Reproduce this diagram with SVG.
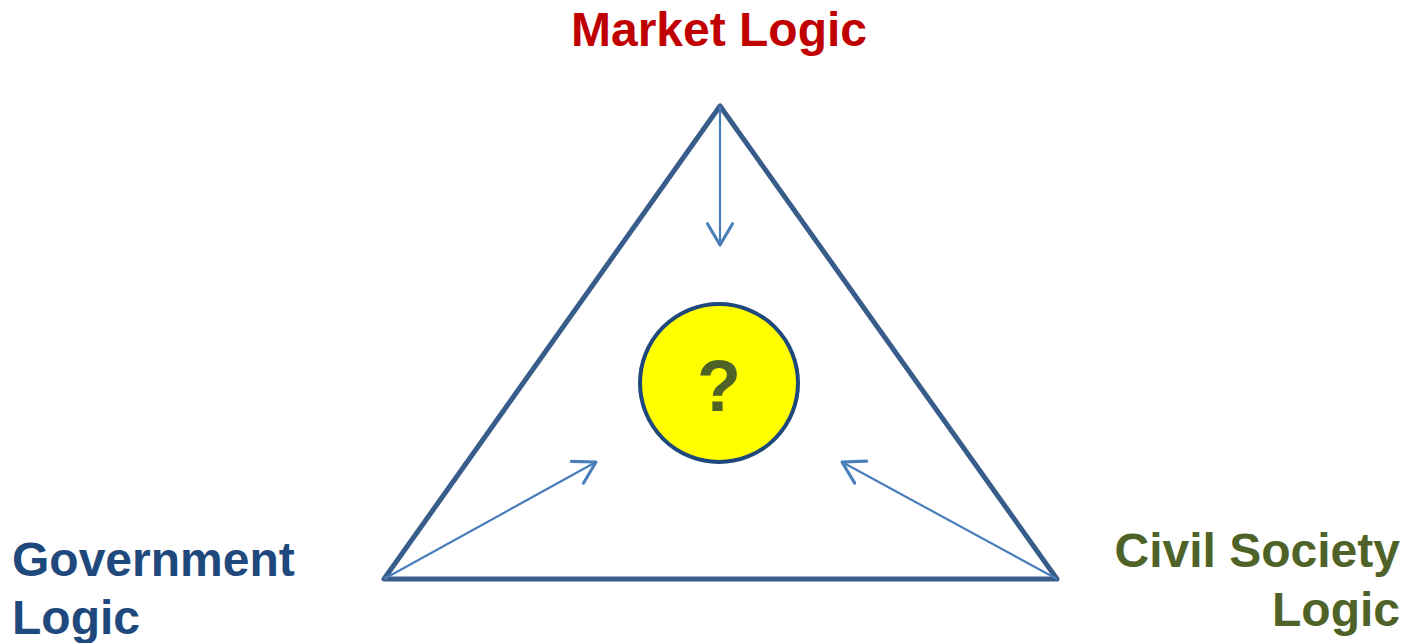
<svg xmlns="http://www.w3.org/2000/svg" width="1408" height="643" viewBox="0 0 1408 643">
<defs>
<style>
.lbl{font-family:"Liberation Sans",Arial,sans-serif;font-weight:bold;font-size:48px}
.conn{stroke:#4A7EBB;stroke-width:2.2;fill:none}
</style>
<marker id="arr" markerUnits="userSpaceOnUse" markerWidth="30" markerHeight="30" viewBox="-20 -12 24 24" refX="0" refY="0" orient="auto">
<path d="M-17,-10 L0,0 L-17,10" fill="none" stroke="#4A7EBB" stroke-width="2.5" stroke-linecap="round" stroke-linejoin="round"/>
</marker>
</defs>
<rect width="1408" height="643" fill="#ffffff"/>
<g id="triangle">
<polygon points="720,106 384,579 1057,579" fill="none" stroke="#385D8A" stroke-width="5" stroke-linejoin="round"/>
</g>
<g id="connectors">
<line class="conn" x1="720" y1="106" x2="720" y2="245" marker-end="url(#arr)"/>
<line class="conn" x1="384" y1="579" x2="596" y2="462" marker-end="url(#arr)"/>
<line class="conn" x1="1057" y1="579" x2="842" y2="462" marker-end="url(#arr)"/>
</g>
<g id="center">
<circle cx="719" cy="383" r="79" fill="#FFFF00" stroke="#1F497D" stroke-width="4"/>
<text x="719" y="411" text-anchor="middle" font-family="Liberation Sans, Arial, sans-serif" font-weight="bold" font-size="72" fill="#4F6228">?</text>
</g>
<g id="market">
<text class="lbl" x="719" y="46" text-anchor="middle" fill="#C00000">Market Logic</text>
</g>
<g id="government">
<text class="lbl" x="12" y="576" fill="#1F497D">Government</text>
<text class="lbl" x="12" y="634" fill="#1F497D">Logic</text>
</g>
<g id="civil">
<text class="lbl" x="1400" y="567" text-anchor="end" fill="#4F6228">Civil Society</text>
<text class="lbl" x="1400" y="626" text-anchor="end" fill="#4F6228">Logic</text>
</g>
</svg>
